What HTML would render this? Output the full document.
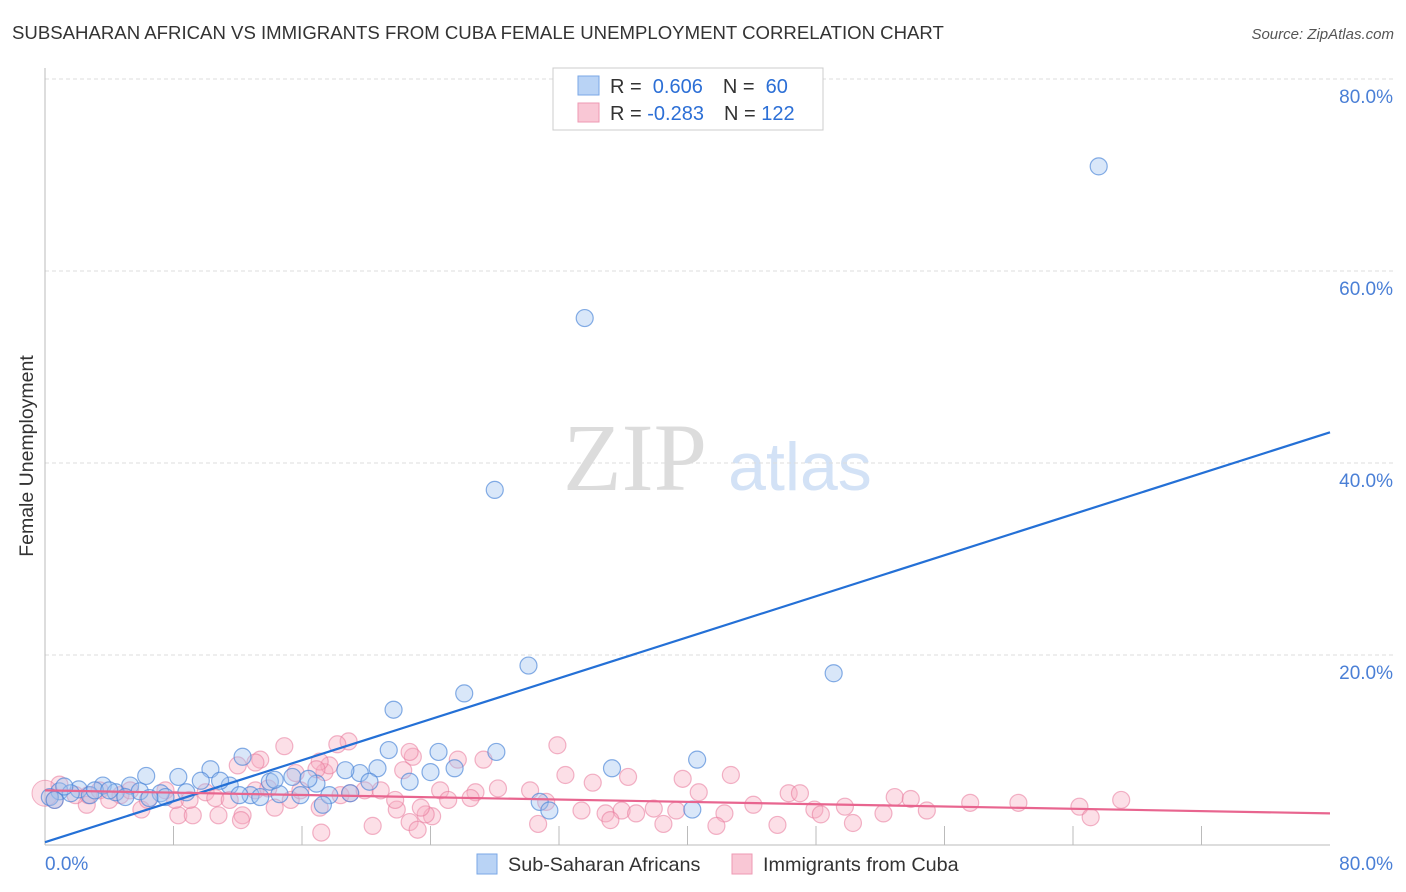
<!DOCTYPE html>
<html><head><meta charset="utf-8"><style>
body{margin:0;background:#fff;font-family:"Liberation Sans",sans-serif;}
#wrap{position:relative;width:1406px;height:892px;overflow:hidden;}
</style></head><body>
<div id="wrap">
<svg id="svg" width="1406" height="892" xmlns="http://www.w3.org/2000/svg">
<text x="12" y="39" font-size="18.6" fill="#333">SUBSAHARAN AFRICAN VS IMMIGRANTS FROM CUBA FEMALE UNEMPLOYMENT CORRELATION CHART</text>
<text x="1394" y="39" font-size="15" fill="#555" font-style="italic" text-anchor="end">Source: ZipAtlas.com</text>
<text x="33" y="456" font-size="19.5" fill="#333" text-anchor="middle" transform="rotate(-90 33 456)">Female Unemployment</text>
<text x="635" y="490" font-size="96" fill="#dcdcdc" font-family="Liberation Serif,serif" text-anchor="middle">ZIP</text>
<text x="800" y="490" font-size="68" fill="#d3e2f6" text-anchor="middle">atlas</text>
<g id="grid"></g><g id="pts"></g><g id="lines"></g>
<g>
<rect x="553" y="68" width="270" height="62" fill="#fff" stroke="#ccc"/>
<rect x="578" y="76" width="21" height="19" fill="#b9d3f5" stroke="#7aa7e6"/>
<rect x="578" y="103" width="21" height="19" fill="#f9c7d5" stroke="#ee9ab3"/>
<text x="610" y="93" font-size="20" fill="#333">R = <tspan fill="#2c6fd6">&#160;0.606</tspan><tspan dx="20">N = </tspan><tspan fill="#2c6fd6">&#160;60</tspan></text>
<text x="610" y="120" font-size="20" fill="#333">R = <tspan fill="#2c6fd6">-0.283</tspan><tspan dx="20">N = </tspan><tspan fill="#2c6fd6">122</tspan></text>
</g>
<g>
<rect x="477" y="854" width="20" height="20" fill="#b9d3f5" stroke="#7aa7e6"/>
<text x="508" y="871" font-size="19.8" fill="#333">Sub-Saharan Africans</text>
<rect x="732" y="854" width="20" height="20" fill="#f9c7d5" stroke="#ee9ab3"/>
<text x="763" y="871" font-size="19.8" fill="#333">Immigrants from Cuba</text>
</g>
</svg>
</div>
<script>
const yTicks=[20,40,60,80];
const yTickLabels=["20.0%","40.0%","60.0%","80.0%"];
const xTicks=[8,16,24,32,40,48,56,64,72];
const xEndLabels=["0.0%","80.0%"];
const blueX=[65.6,33.6,28.0,30.1,49.1,26.1,21.7,40.6,35.3,28.1,24.5,21.4,12.3,10.3,6.3,8.3,25.5,24.0,19.6,20.7,18.7,16.9,15.4,22.7,16.4,14.0,11.5,9.7,10.9,8.8,7.2,5.3,3.6,2.1,0.9,0.3,1.6,2.8,4.4,5.9,7.5,12.8,14.6,15.9,17.7,17.3,20.2,30.8,31.4,40.3,13.4,5.0,3.1,0.6,1.2,12.1,19.0,14.3,6.5,4.0];
const blueY=[70.9,55.1,37.2,18.9,18.1,16.0,14.3,9.1,8.2,9.9,9.9,10.1,9.4,8.1,7.4,7.3,8.2,7.8,7.7,8.2,8.0,6.6,7.3,6.8,7.1,6.8,6.4,6.9,6.9,5.7,5.6,6.4,6.4,6.0,5.8,5.2,5.6,5.4,5.7,5.8,5.2,5.4,5.5,5.4,5.4,4.4,6.8,4.7,3.8,3.9,5.2,5.2,5.9,4.9,6.3,5.4,5.6,7.0,5.1,5.9];
const pinkX=[14.9,13.4,13.1,12.0,18.9,18.2,15.6,17.4,17.7,17.1,16.9,22.9,22.7,22.3,25.7,27.3,26.8,28.2,24.1,23.7,23.4,22.7,21.9,23.2,20.4,17.1,17.2,12.3,10.8,8.3,9.2,12.2,6.0,6.4,2.6,2.7,4.7,5.3,7.5,8.1,10.0,9.0,10.6,11.5,13.1,13.9,14.3,15.3,15.9,18.4,19.0,19.9,20.9,21.8,24.6,25.1,26.5,31.9,32.4,34.1,36.3,39.7,42.7,40.7,33.4,34.9,35.9,36.8,37.9,39.3,42.3,30.7,35.2,38.5,41.8,45.6,46.3,47.0,44.1,47.9,48.3,49.8,50.3,52.2,52.9,53.9,54.9,57.6,60.6,64.4,65.1,67.0,30.2,31.2,0.9,1.9,3.4,4.0,0.6];
const pinkY=[10.5,9.1,8.8,8.5,11.0,10.7,7.7,7.8,8.5,8.9,8.1,9.4,9.9,8.0,9.1,9.1,5.7,6.1,3.2,3.4,4.1,2.6,3.9,1.8,2.2,4.1,1.5,3.3,3.3,3.3,3.3,2.8,3.9,4.9,4.4,5.4,5.4,5.9,5.9,4.9,5.7,4.9,5.1,4.9,5.9,6.1,4.1,4.9,5.9,5.4,5.6,5.9,5.9,4.9,5.9,4.9,5.1,10.6,7.5,6.7,7.3,7.1,7.5,5.7,3.8,3.5,3.8,3.5,4.0,3.8,3.5,2.4,2.8,2.4,2.2,2.3,5.6,5.6,4.4,3.9,3.4,4.2,2.5,3.5,5.2,5.0,3.8,4.6,4.6,4.2,3.1,4.9,5.9,4.7,6.5,5.4,5.9,4.9,4.9];
const blueTrend=[0.5,43.2];
const pinkTrend=[5.9,3.5];
const NS="http://www.w3.org/2000/svg";
const X0=45,X1=1330,Y0=847,YTOP=79;
const sx=v=>X0+(X1-X0)*v/80;
const sy=v=>Y0-(Y0-YTOP)*v/80;
function mk(tag,attrs,parent){const e=document.createElementNS(NS,tag);for(const k in attrs)e.setAttribute(k,attrs[k]);parent.appendChild(e);return e;}
const grid=document.getElementById('grid');
yTicks.forEach((t,i)=>{
 const l=mk('line',{x1:X0,x2:1393,y1:sy(t),y2:sy(t),stroke:'#ddd','stroke-dasharray':'4 3'},grid);
 
 
 const tx=mk('text',{x:1393,y:sy(t)+24,'font-size':19,fill:'#4a7fd6','text-anchor':'end'},grid);
 tx.textContent=yTickLabels[i];
 
 
});
const ax=mk('line',{x1:X0,x2:X0,y1:68,y2:845,stroke:'#bbb'},grid);


const bx=mk('line',{x1:X0,x2:X1,y1:845,y2:845,stroke:'#bbb'},grid);


xTicks.forEach(t=>{
 const l=mk('line',{x1:sx(t),x2:sx(t),y1:826,y2:845,stroke:'#bbb'},grid);
 
 
});
const xl0=mk('text',{x:45,y:870,'font-size':19,fill:'#4a7fd6'},grid);xl0.textContent=xEndLabels[0];


const xl1=mk('text',{x:1393,y:870,'font-size':19,fill:'#4a7fd6','text-anchor':'end'},grid);xl1.textContent=xEndLabels[1];


const pts=document.getElementById('pts');
pinkX.forEach((x,i)=>{
 const c=mk('circle',{cx:sx(x),cy:sy(pinkY[i]),r:8.5,fill:'rgba(246,170,192,0.38)',stroke:'rgba(232,120,155,0.55)','stroke-width':1.2},pts);
 
 
});
const big=mk('circle',{cx:sx(0),cy:sy(5.6),r:13,fill:'rgba(246,170,192,0.38)',stroke:'rgba(232,120,155,0.55)'},pts);


blueX.forEach((x,i)=>{
 const c=mk('circle',{cx:sx(x),cy:sy(blueY[i]),r:8.5,fill:'rgba(160,196,240,0.4)',stroke:'rgba(70,130,215,0.65)','stroke-width':1.2},pts);
 
 
});
const lines=document.getElementById('lines');
const lb=mk('line',{x1:sx(0),y1:sy(blueTrend[0]),x2:sx(80),y2:sy(blueTrend[1]),stroke:'#2470d6','stroke-width':2.2},lines);


const lp=mk('line',{x1:sx(0),y1:sy(pinkTrend[0]),x2:sx(80),y2:sy(pinkTrend[1]),stroke:'#e8658f','stroke-width':2.2},lines);


</script>
</body></html>
